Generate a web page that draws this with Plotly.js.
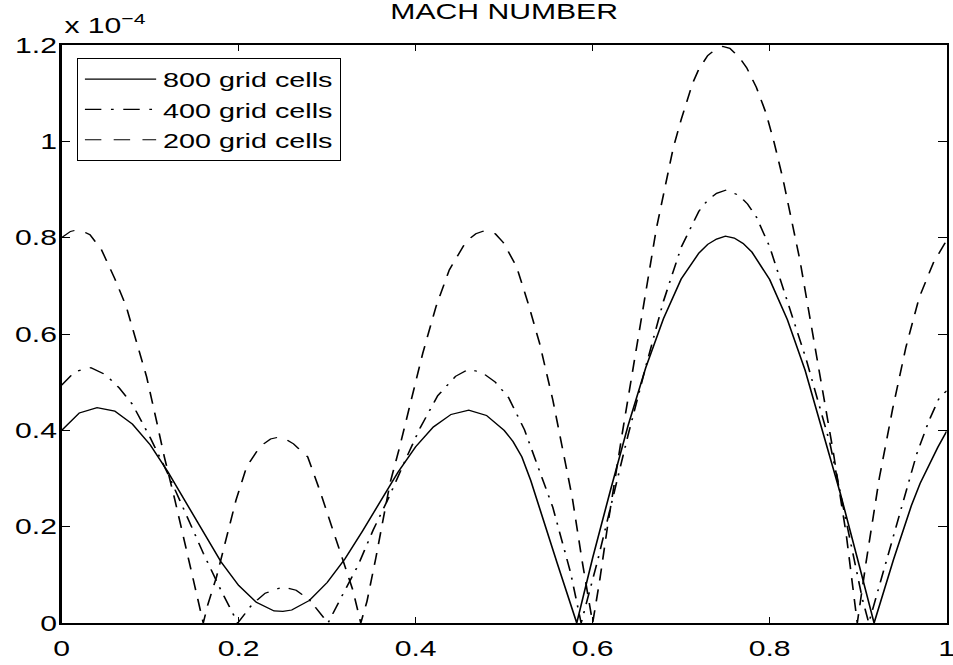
<!DOCTYPE html>
<html>
<head>
<meta charset="utf-8">
<script src="https://cdn.plot.ly/plotly-3.0.1.min.js"></script>
<style>
  html, body { margin: 0; padding: 0; background: #ffffff; overflow: hidden; width: 953px; height: 665px; }
  #chart { width: 700px; height: 665px; transform: scale(1.37, 1); transform-origin: 0 0; }
</style>
</head>
<body>
<div id="chart"></div>
<script>
// Values in units of 1e-4 (as displayed with the "x 10^-4" multiplier)
const x800 = [0.000,0.020,0.040,0.060,0.080,0.100,0.120,0.140,0.160,0.180,0.200,0.220,0.240,0.250,0.260,0.280,0.300,0.320,0.340,0.360,0.380,0.400,0.420,0.440,0.460,0.480,0.500,0.510,0.520,0.530,0.540,0.560,0.582,0.600,0.620,0.640,0.660,0.680,0.700,0.720,0.730,0.740,0.750,0.760,0.770,0.780,0.800,0.820,0.840,0.860,0.880,0.900,0.918,0.940,0.950,0.960,0.970,0.980,0.990,1.000];
const y800 = [0.400,0.436,0.447,0.440,0.413,0.370,0.314,0.252,0.188,0.127,0.078,0.043,0.025,0.024,0.027,0.047,0.084,0.133,0.191,0.253,0.313,0.366,0.407,0.433,0.442,0.431,0.400,0.377,0.345,0.296,0.237,0.124,0.000,0.135,0.275,0.410,0.530,0.632,0.714,0.768,0.786,0.797,0.803,0.799,0.788,0.770,0.713,0.630,0.525,0.400,0.268,0.128,0.000,0.132,0.190,0.243,0.290,0.328,0.365,0.398];

const x400 = [0.000,0.015,0.033,0.050,0.065,0.080,0.100,0.120,0.140,0.160,0.180,0.199,0.215,0.230,0.250,0.265,0.280,0.290,0.301,0.315,0.335,0.352,0.370,0.390,0.405,0.425,0.445,0.460,0.475,0.490,0.505,0.523,0.540,0.555,0.575,0.587,0.605,0.622,0.640,0.660,0.680,0.700,0.720,0.730,0.740,0.751,0.765,0.775,0.785,0.800,0.819,0.841,0.868,0.890,0.905,0.912,0.925,0.950,0.966,0.980,0.992,1.000];
const y400 = [0.494,0.522,0.530,0.515,0.488,0.454,0.385,0.310,0.228,0.145,0.068,0.000,0.038,0.062,0.075,0.068,0.048,0.025,0.000,0.050,0.120,0.193,0.262,0.345,0.405,0.472,0.512,0.527,0.520,0.500,0.468,0.401,0.318,0.240,0.105,0.000,0.125,0.255,0.390,0.532,0.668,0.780,0.855,0.878,0.892,0.899,0.888,0.870,0.843,0.781,0.676,0.549,0.374,0.183,0.048,0.000,0.085,0.245,0.350,0.420,0.469,0.482];

const x200 = [0.000,0.010,0.020,0.032,0.045,0.060,0.073,0.084,0.096,0.107,0.116,0.128,0.139,0.148,0.160,0.165,0.175,0.186,0.197,0.209,0.224,0.236,0.248,0.262,0.278,0.2915,0.3066,0.318,0.329,0.338,0.345,0.355,0.363,0.371,0.382,0.393,0.408,0.423,0.438,0.457,0.468,0.480,0.490,0.499,0.514,0.527,0.540,0.555,0.5665,0.577,0.588,0.600,0.608,0.617,0.634,0.653,0.672,0.691,0.700,0.713,0.720,0.730,0.740,0.747,0.755,0.765,0.774,0.785,0.796,0.805,0.815,0.834,0.853,0.8716,0.8866,0.896,0.899,0.909,0.924,0.939,0.954,0.969,0.985,1.000];
const y200 = [0.800,0.813,0.817,0.806,0.775,0.715,0.657,0.590,0.511,0.421,0.345,0.255,0.172,0.096,0.000,0.037,0.096,0.179,0.255,0.324,0.366,0.382,0.387,0.372,0.345,0.276,0.193,0.124,0.0685,0.000,0.045,0.135,0.215,0.290,0.366,0.449,0.560,0.657,0.733,0.792,0.808,0.816,0.808,0.790,0.740,0.664,0.581,0.463,0.352,0.260,0.130,0.000,0.089,0.203,0.400,0.612,0.819,0.986,1.045,1.121,1.150,1.178,1.193,1.197,1.193,1.176,1.153,1.112,1.058,0.998,0.922,0.755,0.557,0.358,0.183,0.048,0.000,0.127,0.302,0.445,0.573,0.676,0.748,0.795];

const seriesNames = ['800 grid cells', '400 grid cells', '200 grid cells'];
const xTicks = [0, 0.2, 0.4, 0.6, 0.8, 1];
const yTicks = [0, 0.2, 0.4, 0.6, 0.8, 1, 1.2];

const FONT = 'Liberation Sans, Arial, Helvetica, sans-serif';

const traces = [
  { x: x800, y: y800, name: seriesNames[0], type: 'scatter', mode: 'lines',
    line: { color: '#000000', width: 1.2, dash: 'solid' } },
  { x: x400, y: y400, name: seriesNames[1], type: 'scatter', mode: 'lines',
    line: { color: '#000000', width: 1.2, dash: '12px,7px,2px,7px' } },
  { x: x200, y: y200, name: seriesNames[2], type: 'scatter', mode: 'lines',
    line: { color: '#000000', width: 1.2, dash: '12px,9px' } }
];

const axisCommon = {
  showgrid: false, zeroline: false, showline: true, linecolor: '#000000', linewidth: 2,
  mirror: 'ticks', ticks: 'inside', ticklen: 6, tickwidth: 1, tickcolor: '#000000',
  tickfont: { family: FONT, size: 22, color: '#000000' }
};

const layout = {
  width: 700, height: 665,
  margin: { l: 45, r: 9, t: 45, b: 42, pad: 0 },
  paper_bgcolor: '#ffffff', plot_bgcolor: '#ffffff',
  font: { family: FONT, size: 22, color: '#000000' },
  title: { text: 'MACH NUMBER', font: { family: FONT, size: 22, color: '#000000' },
           x: 0.5, xref: 'paper', xanchor: 'center', y: 0.971, yref: 'container', yanchor: 'bottom' },
  xaxis: Object.assign({}, axisCommon, { range: [0, 1], tickvals: xTicks, ticktext: xTicks.map(String), ticklabelstandoff: 5 }),
  yaxis: Object.assign({}, axisCommon, { range: [0, 1.2], tickvals: yTicks, ticktext: yTicks.map(String), ticklabelstandoff: -3 }),
  showlegend: true,
  legend: { x: 0.017, y: 0.9775, xanchor: 'left', yanchor: 'top', bgcolor: '#ffffff',
            bordercolor: '#000000', borderwidth: 1, itemwidth: 52,
            font: { family: FONT, size: 21, color: '#000000' }, tracegroupgap: 0 },
  annotations: [
    { text: 'x 10<sup>\u22124</sup>', xref: 'paper', yref: 'paper', x: 0, y: 1,
      xanchor: 'left', yanchor: 'bottom', yshift: 5, showarrow: false,
      font: { family: FONT, size: 22, color: '#000000' } }
  ],
  hovermode: false
};

Plotly.newPlot('chart', traces, layout, { displayModeBar: false, staticPlot: true });
</script>
</body>
</html>
